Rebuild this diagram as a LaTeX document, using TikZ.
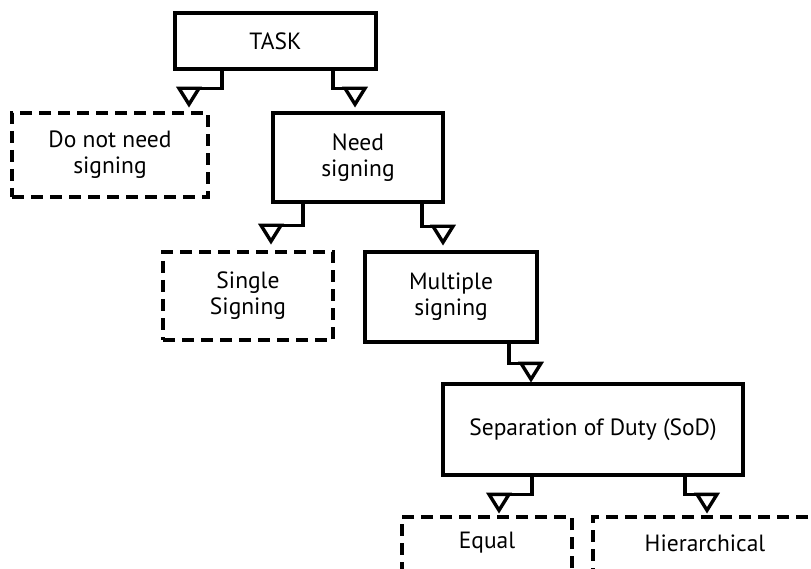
\documentclass[tikz,border=0pt]{standalone}
\usepackage{fontspec}
\setmainfont{PT Sans}
\tikzset{
  box/.style={draw, line width=3.4pt, inner sep=0pt, align=center, font=\fontsize{23.5}{26}\selectfont},
  solidbox/.style={box},
  dashbox/.style={box, dash pattern=on 12pt off 7pt},
  lbl/.style={inner sep=0pt, align=center, font=\fontsize{23.5}{26}\selectfont},
  conn/.style={line width=3.4pt},
  vtip/.pic={\draw[line width=3.4pt, line join=miter, miter limit=10] (-10pt,16pt) -- (0pt,0pt) -- (10pt,16pt) -- cycle;},
}
\begin{document}
\begin{tikzpicture}[x=1pt, y=-1pt]
\useasboundingbox (0,0) rectangle (811,569);
\node[solidbox, minimum width=201pt, minimum height=56pt] (task) at (275.5,41) {TASK};
\node[dashbox, minimum width=196pt, minimum height=84pt] (dn) at (110,155) {Do not need\\signing};
\node[solidbox, minimum width=170pt, minimum height=89pt] (need) at (358,157.5) {Need\\signing};
\node[dashbox, minimum width=170pt, minimum height=88pt] (single) at (248,296) {Single\\Signing};
\node[solidbox, minimum width=172pt, minimum height=90pt] (multi) at (451,297) {Multiple\\signing};
\node[solidbox, minimum width=300pt, minimum height=91pt] (sod) at (593,429.5) {Separation of Duty (SoD)};
\node[dashbox, minimum width=170pt, minimum height=90pt] (equal) at (487,562) {};
\node[lbl] (equalt) at (487,543) {Equal};
\node[dashbox, minimum width=224pt, minimum height=90pt] (hier) at (705,562) {};
\node[lbl] (hiert) at (705,543) {Hierarchical};
% arrow tips (named coordinates)
\coordinate (t1) at ([yshift=7pt]dn.north -| 189,0);
\coordinate (t2) at ([yshift=7pt]need.north -| 355,0);
\coordinate (t3) at ([yshift=9pt]single.north -| 271,0);
\coordinate (t4) at ([yshift=8pt]multi.north -| 443,0);
\coordinate (t5) at ([yshift=3pt]sod.north -| 531,0);
\coordinate (t6) at ([yshift=5pt]equal.north -| 499,0);
\coordinate (t7) at ([yshift=5pt]hier.north -| 707,0);
\draw[conn] (task.south -| 222,0) |- ([yshift=16pt]t1);
\draw[conn] (task.south -| 333,0) |- ([yshift=16pt]t2);
\draw[conn] (need.south -| 303,0) |- ([yshift=16pt]t3);
\draw[conn] (need.south -| 422,0) |- ([yshift=16pt]t4);
\draw[conn] (multi.south -| 509,0) |- ([yshift=16pt]t5);
\draw[conn] (sod.south -| 532,0) |- ([yshift=16pt]t6);
\draw[conn] (sod.south -| 685,0) |- ([yshift=16pt]t7);
\foreach \t in {t1,t2,t3,t4,t5,t6,t7} \pic at (\t) {vtip};
\end{tikzpicture}
\end{document}
